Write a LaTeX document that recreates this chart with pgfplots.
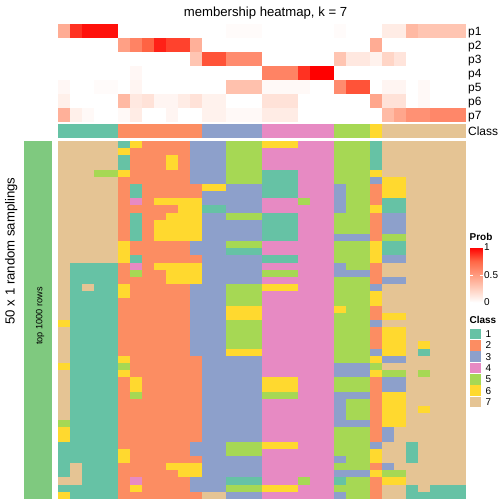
\documentclass[border=0pt]{standalone}
\usepackage{pgfplots}
\pgfplotsset{compat=1.18}
\usepackage{pgfplotstable}
\usepackage{fontspec}
\setmainfont{Liberation Sans}
\pgfplotsset{/pgf/number format/assume math mode=true}
\definecolor{k1}{RGB}{102,194,165}
\definecolor{k2}{RGB}{252,141,98}
\definecolor{k3}{RGB}{141,160,203}
\definecolor{k4}{RGB}{231,138,195}
\definecolor{k5}{RGB}{166,216,84}
\definecolor{k6}{RGB}{255,217,47}
\definecolor{k7}{RGB}{229,196,148}
\definecolor{annog}{RGB}{127,201,127}
\pgfplotsset{
  colormap={cls}{rgb255=(102,194,165) rgb255=(252,141,98) rgb255=(141,160,203) rgb255=(231,138,195) rgb255=(166,216,84) rgb255=(255,217,47) rgb255=(229,196,148)},
  colormap={prob}{rgb255=(255,255,255) rgb255=(255,207,190) rgb255=(255,156,128) rgb255=(255,103,70) rgb255=(255,0,0)}
}
\pgfdeclareplotmark{cellA}{\pgfpathrectangle{\pgfpoint{-6.1bp}{-7.1bp}}{\pgfpoint{12.2bp}{14.2bp}}\pgfusepathqfill}
\pgfdeclareplotmark{cellB}{\pgfpathrectangle{\pgfpoint{-6.1bp}{-3.68bp}}{\pgfpoint{12.2bp}{7.36bp}}\pgfusepathqfill}

\pgfplotstableread{
k p1 p2 p3 p4 p5 p6 p7
1 0.42 0 0 0 0.04 0.08 0.40
1 0.88 0 0 0 0 0 0.08
1 0.96 0 0 0 0 0 0.03
1 0.96 0 0 0 0.02 0 0
1 0.96 0 0 0 0.02 0 0
2 0 0.48 0 0 0 0.36 0.03
2 0 0.62 0 0.04 0.05 0.12 0.10
2 0 0.76 0 0 0 0.15 0
2 0 0.92 0 0 0 0.05 0
2 0 0.84 0 0 0 0.05 0.05
2 0 0.84 0 0 0 0.10 0
2 0 0.40 0.30 0 0 0.15 0
3 0 0 0.80 0 0 0.07 0.07
3 0 0 0.80 0 0 0.07 0.07
3 0.02 0 0.58 0 0.32 0 0.03
3 0.02 0 0.58 0 0.32 0 0.03
3 0.02 0 0.58 0 0.32 0 0.03
4 0 0 0 0.62 0.03 0.15 0.10
4 0 0 0 0.62 0.03 0.15 0.10
4 0 0 0 0.62 0.03 0.15 0.10
4 0 0 0 0.88 0.03 0 0
4 0 0 0 1.00 0 0 0
4 0 0 0 1.00 0 0 0
5 0.02 0 0.30 0 0.58 0 0
5 0 0 0.12 0 0.80 0 0
5 0 0 0.12 0 0.80 0 0
6 0 0.42 0.07 0 0 0.45 0
7 0.10 0 0.22 0 0.05 0.15 0.35
7 0.10 0 0.14 0 0.05 0.15 0.45
7 0.36 0 0 0 0 0 0.55
7 0.30 0 0 0 0.03 0.03 0.55
7 0.30 0 0 0 0 0 0.60
7 0.30 0 0 0 0 0 0.60
7 0.30 0 0 0 0 0 0.60
}\probtab

\pgfplotstableread{
c1 c2 c3 c4 c5 c6 c7 c8 c9 c10 c11 c12 c13 c14 c15 c16 c17 c18 c19 c20 c21 c22 c23 c24 c25 c26 c27 c28 c29 c30 c31 c32 c33 c34
7 7 7 7 7 1 6 2 2 2 2 3 3 3 5 5 5 6 6 6 4 4 4 5 5 5 1 7 7 7 7 7 7 7
7 7 7 7 7 6 2 2 2 2 2 3 3 3 5 5 5 4 4 4 4 4 4 5 5 5 1 7 7 7 7 7 7 7
7 7 7 7 7 1 2 2 2 6 2 3 3 3 5 5 5 4 4 4 4 4 4 5 5 5 1 7 7 7 7 7 7 7
7 7 7 7 7 1 2 2 2 6 2 3 3 3 5 5 5 4 4 4 4 4 4 5 5 5 1 7 7 7 7 7 7 7
7 7 7 5 5 6 2 2 2 2 2 3 3 3 5 5 5 1 1 1 4 4 4 5 5 5 6 7 7 7 7 7 7 7
7 7 7 7 7 2 2 2 2 2 2 3 3 3 5 5 5 1 1 1 4 4 4 5 5 5 3 6 6 7 7 7 7 7
7 7 7 7 7 2 1 2 2 2 2 2 6 6 3 3 3 1 1 1 4 4 4 3 5 5 2 6 6 7 7 7 7 7
7 7 7 7 7 2 1 2 2 2 2 2 3 3 3 3 3 1 1 1 4 4 4 3 5 5 2 6 6 7 7 7 7 7
7 7 7 7 7 2 4 2 6 6 6 6 3 3 3 3 3 4 4 4 5 4 4 3 5 5 2 1 1 7 7 7 7 7
7 7 7 7 7 2 2 2 2 2 6 6 1 1 3 3 3 4 4 4 4 4 4 3 5 5 6 1 1 7 7 7 7 7
7 7 7 7 7 2 1 2 2 6 6 6 3 3 5 5 5 1 1 1 4 4 4 5 5 5 2 3 3 7 7 7 7 7
7 7 7 7 7 2 1 2 6 6 6 6 3 3 3 3 3 1 1 1 4 4 4 5 5 5 2 3 3 7 7 7 7 7
7 7 7 7 7 2 1 2 6 6 6 6 3 3 3 3 3 1 1 1 4 4 4 5 5 5 2 3 3 7 7 7 7 7
7 7 7 7 7 2 1 2 6 6 6 6 3 3 3 3 3 1 1 1 4 4 4 3 3 3 2 5 5 7 7 7 7 7
7 7 7 7 7 6 2 2 2 2 2 3 3 3 5 5 5 4 4 4 4 4 4 5 5 5 6 1 1 7 7 7 7 7
7 7 7 7 7 6 2 2 2 2 2 3 3 3 1 1 1 4 4 4 4 4 4 5 5 5 6 1 1 7 7 7 7 7
7 7 7 7 7 6 1 2 2 2 2 2 3 3 3 3 3 1 1 1 4 4 4 5 5 5 6 3 3 7 7 7 7 7
7 1 1 1 1 2 4 2 6 6 6 6 3 3 3 3 3 4 4 4 4 4 4 3 5 5 2 7 7 7 7 7 7 7
7 1 1 1 1 2 5 2 2 6 6 6 3 3 3 3 3 5 5 5 4 4 4 3 3 3 2 7 7 7 7 7 7 7
7 1 1 1 1 2 2 2 2 6 6 6 3 3 3 3 3 4 4 4 4 4 4 5 5 5 2 3 3 7 7 7 7 7
7 1 7 1 1 6 2 2 2 2 2 3 3 3 5 5 5 6 6 6 4 4 4 5 5 5 3 7 7 7 7 7 7 7
7 1 1 1 1 6 2 2 2 2 2 3 3 3 5 5 5 4 4 4 4 4 4 5 5 5 6 7 7 7 7 7 7 7
7 1 1 1 1 2 2 2 2 2 2 3 3 3 5 5 5 4 4 4 4 4 4 5 5 5 6 7 7 7 7 7 7 7
7 1 1 1 1 2 2 2 2 2 2 3 3 3 6 6 6 4 4 4 4 4 4 6 5 5 2 7 7 7 7 7 7 7
7 1 1 1 1 2 2 2 2 2 2 3 3 3 6 6 6 4 4 4 4 4 4 5 5 5 2 6 6 7 7 7 7 7
6 1 1 1 1 2 2 2 2 2 2 3 3 3 5 5 5 4 4 4 4 4 4 5 5 5 3 7 7 7 7 7 7 7
7 1 1 1 1 2 2 2 2 2 2 3 3 3 5 5 5 4 4 4 4 4 4 5 5 5 2 6 6 7 7 7 7 7
7 1 1 1 1 2 2 2 2 2 2 3 3 3 5 5 5 4 4 4 4 4 4 5 5 5 2 6 6 7 7 7 7 7
7 1 1 1 1 2 2 2 2 2 2 3 3 3 5 5 5 4 4 4 4 4 4 5 5 5 2 6 6 7 6 7 7 7
7 1 1 1 1 2 2 2 2 2 2 3 3 3 6 6 6 4 4 4 4 4 4 5 5 5 3 6 6 7 1 7 7 7
7 1 1 1 1 6 2 2 2 2 2 2 3 3 3 3 3 4 4 4 4 4 4 5 5 5 6 3 3 7 7 7 7 7
6 1 1 1 1 5 2 2 2 2 2 2 3 3 3 3 3 4 4 4 4 4 4 3 3 3 5 7 7 7 7 7 7 7
7 1 1 1 1 6 2 2 2 2 2 2 3 3 3 3 3 4 4 4 4 4 4 3 3 3 6 5 5 7 5 7 7 7
7 1 1 1 1 2 6 2 2 2 2 2 3 3 3 3 3 6 6 6 4 4 4 5 5 5 2 3 3 7 7 7 7 7
7 1 1 1 1 2 6 2 2 2 2 2 3 3 3 3 3 6 6 6 4 4 4 5 5 5 2 3 3 7 7 7 7 7
7 1 1 1 1 2 5 2 2 2 2 2 3 3 3 3 3 5 5 5 4 4 4 3 3 3 2 6 6 7 7 7 7 7
7 1 1 1 1 2 2 2 2 2 2 2 3 3 3 3 3 4 4 4 4 4 4 3 5 5 2 6 6 7 7 7 7 7
7 1 1 1 1 2 2 2 2 2 2 2 3 3 3 3 3 4 4 4 4 4 4 3 5 5 2 6 6 7 6 7 7 7
7 1 1 1 1 2 2 2 2 2 2 2 3 3 3 3 3 4 4 4 4 4 4 3 5 5 2 6 6 7 7 7 7 7
5 1 1 1 1 2 2 2 2 2 2 2 3 3 3 3 3 4 4 4 4 4 4 3 3 3 2 6 6 7 7 7 7 7
6 1 1 1 1 2 2 2 2 2 2 2 3 3 3 3 3 4 4 4 4 4 4 5 5 5 2 3 7 7 7 7 7 7
6 1 1 1 1 2 2 2 2 2 2 2 3 3 3 3 3 4 4 4 4 4 4 5 5 5 2 3 7 7 7 7 7 7
1 1 1 1 1 2 2 2 2 2 2 3 3 3 5 5 5 6 6 6 4 4 4 5 5 5 3 7 7 1 7 7 7 7
1 1 1 1 1 6 2 2 2 2 2 3 3 3 5 5 5 4 4 4 4 4 4 5 5 5 6 7 7 1 7 7 7 7
1 1 1 1 1 6 2 2 2 2 2 2 3 3 3 3 3 4 4 4 4 4 4 3 5 5 6 7 7 1 7 7 7 7
1 7 1 1 1 2 2 2 2 6 6 6 3 3 3 3 3 4 4 4 4 4 4 5 5 5 2 3 7 7 7 7 7 7
1 7 1 1 1 2 2 2 2 2 6 6 3 3 3 3 3 4 4 4 4 4 4 3 3 3 6 5 5 7 7 7 7 7
7 7 1 1 1 2 4 2 2 2 2 3 3 3 1 1 1 4 4 4 5 4 4 1 5 5 2 6 6 7 7 7 7 7
1 1 1 1 1 2 6 2 2 2 2 3 3 3 5 5 5 6 6 6 4 4 4 5 5 5 2 7 7 1 7 1 1 1
6 1 1 1 1 2 2 2 2 2 2 2 7 7 3 3 3 4 4 4 4 4 4 3 5 5 2 7 7 1 1 1 1 1
}\bottab

\begin{document}
\begin{tikzpicture}
\path[use as bounding box] (0,0) rectangle (504bp,504bp);

% membership probabilities
\begin{axis}[at={(58bp,382bp)}, anchor=south west, scale only axis,
  width=408bp, height=98bp, xmin=0.5, xmax=34.5, ymin=0.5, ymax=7.5,
  y dir=reverse, hide axis, clip=false, colormap name=prob,
  point meta min=0, point meta max=1,
  colorbar, colorbar style={at={(parent axis.north east)}, anchor=north west,
    xshift=-4.5bp, yshift=-223.5bp, scale only axis, width=12.5bp, height=55bp,
    ytick={0,0.5,1}, yticklabel pos=right, ytick pos=both, tick align=inside,
    major tick length=2.5bp, tick style={white, line width=0.7bp},
    axis line style={draw=none},
    yticklabel style={font=\fontsize{10}{12}\selectfont, inner sep=1.5bp}}]
\pgfplotsinvokeforeach{1,...,7}{
  \addplot[scatter, only marks, mark=cellA, point meta=explicit]
    table[x expr=\coordindex+1, y expr=#1, meta=p#1] {\probtab};
}
\end{axis}

% class row
\begin{axis}[at={(58bp,366bp)}, anchor=south west, scale only axis,
  width=408bp, height=14bp, xmin=0.5, xmax=34.5, ymin=0.5, ymax=1.5,
  hide axis, clip=false, colormap name=cls, point meta min=1, point meta max=7]
\addplot[scatter, only marks, mark=cellA, point meta=explicit]
  table[x expr=\coordindex+1, y expr=1, meta=k] {\probtab};
\end{axis}

% random samplings
\begin{axis}[at={(58bp,5bp)}, anchor=south west, scale only axis,
  width=408bp, height=358bp, xmin=0.5, xmax=34.5, ymin=0.5, ymax=50.5,
  y dir=reverse, hide axis, clip=false, colormap name=cls,
  point meta min=1, point meta max=7]
\fill[annog] (axis cs:-2.3333,0.5) rectangle (axis cs:0,50.5);
\pgfplotsinvokeforeach{1,...,34}{
  \addplot[scatter, only marks, mark=cellB, point meta=explicit]
    table[x expr=#1, y expr=\coordindex+1, meta=c#1] {\bottab};
}
\end{axis}

% texts
\node[anchor=base, inner sep=0, font=\fontsize{13.2}{15}\selectfont] at (265.5bp,487.3bp) {membership heatmap, k = 7};
\begin{scope}[every node/.style={anchor=base west, inner sep=0, font=\fontsize{12}{14}\selectfont}]
\node at (468bp,468.7bp) {p1};
\node at (468bp,454.7bp) {p2};
\node at (468bp,440.7bp) {p3};
\node at (468bp,426.7bp) {p4};
\node at (468bp,412.7bp) {p5};
\node at (468bp,398.7bp) {p6};
\node at (468bp,384.7bp) {p7};
\node at (468bp,368.7bp) {Class};
\end{scope}
\node[rotate=90, anchor=base, inner sep=0, font=\fontsize{13.2}{15}\selectfont] at (14.5bp,253bp) {50 x 1 random samplings};
\node[rotate=90, anchor=base, inner sep=0, font=\fontsize{9.2}{11}\selectfont] at (42.3bp,188bp) {top 1000 rows};

% legends
\node[anchor=base west, inner sep=0, font=\bfseries\fontsize{10}{12}\selectfont] at (469.5bp,263.3bp) {Prob};
\node[anchor=base west, inner sep=0, font=\bfseries\fontsize{10}{12}\selectfont] at (469.5bp,180bp) {Class};
\fill[k1] (470bp,164.6bp) rectangle (481.3bp,175.4bp);
\fill[k2] (470bp,153.26bp) rectangle (481.3bp,164.06bp);
\fill[k3] (470bp,141.92bp) rectangle (481.3bp,152.72bp);
\fill[k4] (470bp,130.58bp) rectangle (481.3bp,141.38bp);
\fill[k5] (470bp,119.24bp) rectangle (481.3bp,130.04bp);
\fill[k6] (470bp,107.9bp) rectangle (481.3bp,118.7bp);
\fill[k7] (470bp,96.56bp) rectangle (481.3bp,107.36bp);
\begin{scope}[every node/.style={anchor=base west, inner sep=0, font=\fontsize{10}{12}\selectfont}]
\node at (485.5bp,166.4bp) {1};
\node at (485.5bp,155.06bp) {2};
\node at (485.5bp,143.72bp) {3};
\node at (485.5bp,132.38bp) {4};
\node at (485.5bp,121.04bp) {5};
\node at (485.5bp,109.7bp) {6};
\node at (485.5bp,98.36bp) {7};
\end{scope}
\end{tikzpicture}
\end{document}
